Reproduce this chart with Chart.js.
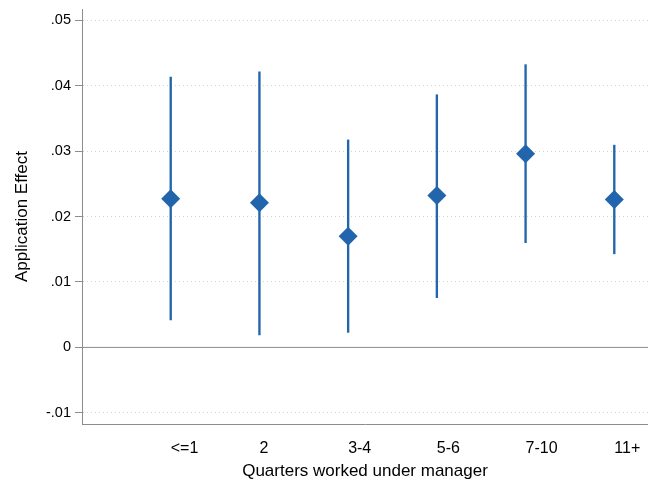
<!DOCTYPE html>
<html>
<head>
<meta charset="utf-8">
<script src="https://cdn.jsdelivr.net/npm/chart.js@4.4.1/dist/chart.umd.min.js"></script>
<style>
  html, body { margin: 0; padding: 0; background: #fff; }
  #wrap { width: 648px; height: 483px; }
</style>
</head>
<body>
<div id="wrap"><canvas id="chart"></canvas></div>
<script>
"use strict"

// values
var categories = ['<=1', '2', '3-4', '5-6', '7-10', '11+'];
var pointEst = [0.0227, 0.0221, 0.0170, 0.0232, 0.0296, 0.0226];
var ciLow    = [0.0042, 0.0019, 0.0023, 0.0076, 0.0160, 0.0143];
var ciHigh   = [0.0413, 0.0421, 0.0317, 0.0386, 0.0432, 0.0309];
var yTicks = [-0.01, 0, 0.01, 0.02, 0.03, 0.04, 0.05];
var yTickLabels = ['-.01', '0', '.01', '.02', '.03', '.04', '.05'];

var blue = '#2265ad';
var axisGray = '#8c8c8c';
var fontFam = "'Liberation Sans', Arial, Helvetica, sans-serif";

var xMin = 0, xMax = 6.38;

var points = categories.map(function(c, i){ return {x: i + 1, y: pointEst[i]}; });
var bars = categories.map(function(c, i){ return {x: i + 1, y: [ciLow[i], ciHigh[i]]}; });

new Chart(document.getElementById('chart'), {
    type: 'bar',
    data: {
        datasets: [{
            type: 'scatter',
            data: points,
            pointStyle: 'rectRot',
            pointRadius: 9.5,
            pointBackgroundColor: blue,
            pointBorderColor: blue,
            pointBorderWidth: 0,
            order: 0
        }, {
            type: 'bar',
            data: bars,
            backgroundColor: blue,
            borderWidth: 0,
            barThickness: 1.7,
            grouped: false,
            order: 1
        }, {
            type: 'line',
            data: [{x: xMin, y: 0}, {x: xMax, y: 0}],
            borderColor: axisGray,
            borderWidth: 1,
            pointRadius: 0,
            order: 2
        }]
    },
    options: {
        responsive: true,
        maintainAspectRatio: false,
        animation: false,
        layout: { autoPadding: false, padding: { top: 9, right: 0, left: 0, bottom: 0 } },
        plugins: {
            legend: { display: false },
            tooltip: { enabled: false }
        },
        scales: {
            x: {
                type: 'linear',
                min: xMin,
                max: xMax,
                offset: false,
                afterBuildTicks: function(scale){
                    scale.ticks = categories.map(function(c, i){ return {value: i + 1}; });
                },
                afterFit: function(scale){
                    scale.height = 59;
                    scale.paddingLeft = 0;
                    scale.paddingRight = 0;
                },
                grid: { display: false, drawTicks: false },
                border: { display: true, color: axisGray, width: 1 },
                ticks: {
                    align: 'start',
                    padding: 15,
                    color: '#000',
                    font: { family: fontFam, size: 16 },
                    callback: function(value){ return categories[value - 1]; }
                },
                title: {
                    display: true,
                    text: 'Quarters worked under manager',
                    color: '#000',
                    font: { family: fontFam, size: 17 },
                    padding: { top: 0, bottom: 1 }
                }
            },
            y: {
                type: 'linear',
                min: -0.0117,
                max: 0.0517,
                afterBuildTicks: function(scale){
                    scale.ticks = yTicks.map(function(v){ return {value: v}; });
                },
                afterFit: function(scale){
                    scale.width = 82;
                    scale.paddingTop = 0;
                    scale.paddingBottom = 0;
                },
                grid: {
                    color: '#d2d2d2',
                    lineWidth: 1,
                    drawTicks: true,
                    tickLength: 7,
                    tickColor: axisGray,
                    tickWidth: 1,
                    tickBorderDash: []
                },
                border: { display: true, color: axisGray, width: 1, dash: [1, 3] },
                ticks: {
                    padding: 4,
                    color: '#000',
                    font: { family: fontFam, size: 14.5 },
                    callback: function(value){
                        var i = yTicks.indexOf(value);
                        return i >= 0 ? yTickLabels[i] : '';
                    }
                },
                title: {
                    display: true,
                    text: 'Application Effect',
                    color: '#000',
                    font: { family: fontFam, size: 17 },
                    padding: { top: 12, bottom: 0 }
                }
            }
        }
    }
});
</script>
</body>
</html>
